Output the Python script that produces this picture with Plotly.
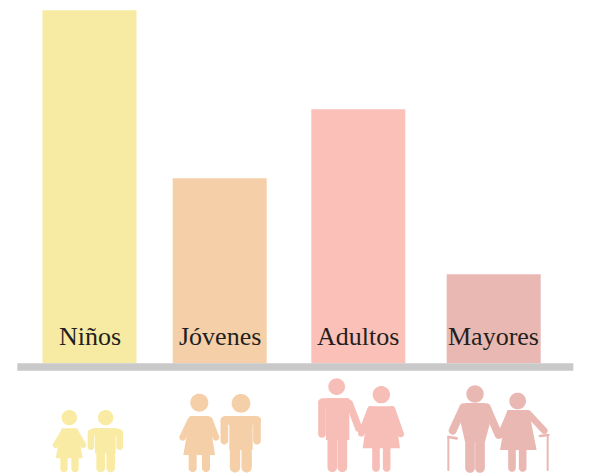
import numpy as np
import plotly.graph_objects as go

W, H = 600, 475
categories = ["Niños", "Jóvenes", "Adultos", "Mayores"]
values = [35.3, 18.5, 25.4, 8.9]
bar_centers = [89.5, 219.7, 358.3, 493.7]
bar_width = 94
bar_colors = ["#F7EAA2", "#F4CFA8", "#FBC0B8", "#EAB8B3"]
icon_colors = ["#F9EBA3", "#F4CFA8", "#F7BEB7", "#EAB8B3"]
BASE_PX = 363.3


def px(pts, ox):
    """zoom-crop coordinates to paper coordinates"""
    return [((x / 3 + ox) / W, 1 - (y / 3 + 310) / H) for x, y in pts]


def path(pts):
    return "M" + "L".join(f"{x:.5f},{y:.5f}" for x, y in pts) + "Z"


def circle(cx, cy, r):
    t = np.linspace(0, 2 * np.pi, 40, endpoint=False)
    return [(cx + r * np.cos(a), cy + r * np.sin(a)) for a in t]


def capsule(x0, y0, x1, y1, w):
    r = w / 2
    ang = np.arctan2(y1 - y0, x1 - x0)
    a1 = np.linspace(ang + np.pi / 2, ang - np.pi / 2, 12)
    a0 = np.linspace(ang - np.pi / 2, ang - 3 * np.pi / 2, 12)
    return [(x1 + r * np.cos(a), y1 + r * np.sin(a)) for a in a1] + [
        (x0 + r * np.cos(a), y0 + r * np.sin(a)) for a in a0
    ]


def rect(x0, y0, x1, y1):
    return [(x0, y0), (x1, y0), (x1, y1), (x0, y1)]


icons = [
    (0, icon_colors[0], [
        circle(208, 323, 23),
        [(185, 355), (232, 355), (248, 445), (167, 445)],
        capsule(192, 365, 167, 405, 18), capsule(226, 365, 250, 405, 18),
        capsule(192, 445, 192, 476, 22), capsule(225, 445, 225, 476, 22),
        circle(317, 323, 23),
        capsule(280, 366, 352, 366, 22),
        capsule(273, 368, 273, 410, 20), capsule(359, 368, 359, 410, 20),
        rect(285, 355, 347, 430),
        capsule(302, 430, 302, 474, 26), capsule(332, 430, 332, 474, 26),
    ]),
    (0, icon_colors[1], [
        circle(598, 278, 27),
        [(570, 318), (627, 318), (645, 435), (550, 435)],
        capsule(573, 330, 548, 382, 20), capsule(628, 330, 648, 382, 20),
        capsule(578, 435, 578, 474, 24), capsule(618, 435, 618, 474, 24),
        circle(723, 280, 28),
        capsule(675, 331, 770, 331, 26),
        capsule(673, 332, 673, 392, 23), capsule(771, 332, 771, 392, 23),
        rect(688, 318, 758, 420),
        capsule(705, 420, 705, 472, 31), capsule(740, 420, 740, 472, 31),
    ]),
    (300, icon_colors[2], [
        circle(110, 230, 25),
        capsule(68, 278, 140, 278, 26),
        capsule(66, 278, 66, 372, 23), capsule(148, 280, 176, 355, 22),
        rect(78, 265, 148, 390),
        capsule(97, 390, 97, 472, 29), capsule(127, 390, 127, 472, 29),
        circle(244, 254, 26),
        [(206, 289), (282, 289), (300, 415), (188, 415)],
        capsule(212, 298, 184, 370, 20), capsule(276, 298, 302, 372, 20),
        capsule(228, 415, 228, 474, 23), capsule(260, 415, 260, 474, 23),
    ]),
    (300, icon_colors[3], [
        circle(525, 252, 26),
        [(495, 279), (555, 279), (575, 320), (555, 395), (495, 395), (478, 320)],
        capsule(490, 292, 458, 362, 24),
        capsule(445, 385, 445, 480, 6), capsule(445, 381, 470, 385, 8),
        capsule(560, 292, 596, 375, 24),
        capsule(510, 395, 510, 474, 29), capsule(540, 395, 540, 474, 29),
        circle(653, 273, 25),
        [(622, 300), (686, 300), (710, 420), (600, 420)],
        capsule(684, 310, 733, 362, 20), capsule(630, 310, 602, 375, 20),
        capsule(743, 378, 743, 480, 6), capsule(720, 378, 745, 375, 8),
        capsule(636, 420, 636, 474, 23), capsule(668, 420, 668, 474, 23),
    ]),
]

shapes = [dict(type="rect", xref="paper", yref="paper",
               x0=17.3 / W, x1=573.3 / W,
               y0=1 - 370.7 / H, y1=1 - BASE_PX / H,
               fillcolor="#C9C9C9", line_width=0, layer="above")]
for ox, color, parts in icons:
    for part in parts:
        shapes.append(dict(type="path", xref="paper", yref="paper",
                           path=path(px(part, ox)), fillcolor=color,
                           line_width=0, layer="above"))

fig = go.Figure(go.Bar(x=bar_centers, y=values, width=bar_width,
                       marker=dict(color=bar_colors, line_width=0),
                       hoverinfo="skip"))

annotations = [dict(x=c, y=0, xref="x", yref="y", text=t, showarrow=False,
                    xanchor="center", yanchor="bottom", yshift=10,
                    font=dict(family="Liberation Serif", size=26, color="#231F20"))
               for c, t in zip(bar_centers, categories)]

fig.update_layout(
    width=W, height=H, margin=dict(l=0, r=0, t=0, b=0),
    paper_bgcolor="white", plot_bgcolor="white", showlegend=False,
    xaxis=dict(range=[0, W], visible=False, fixedrange=True),
    yaxis=dict(range=[-(H - BASE_PX) / 10, BASE_PX / 10], visible=False, fixedrange=True),
    shapes=shapes, annotations=annotations,
)
fig.write_html("out.html", config={"displayModeBar": False},
               post_script="document.body.style.margin='0';document.documentElement.style.overflow='hidden';")
